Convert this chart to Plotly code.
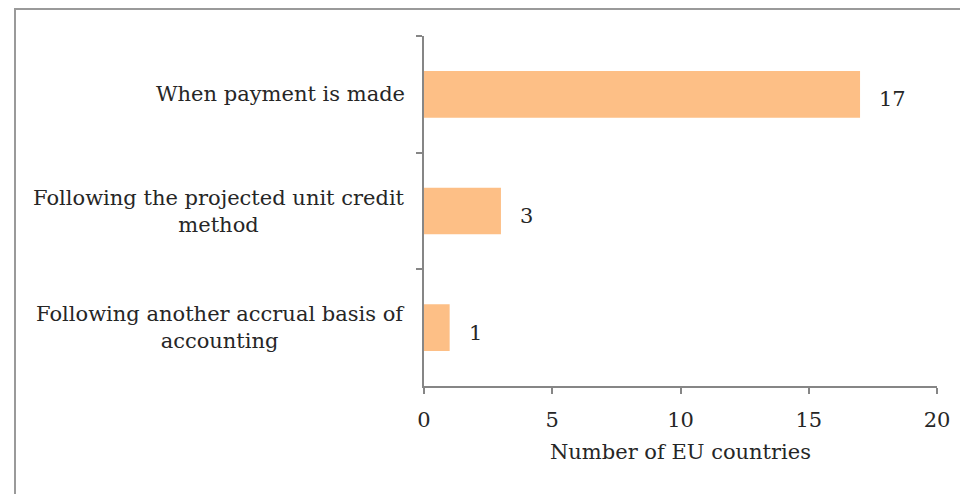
import plotly.graph_objects as go

categories = ["When payment is made",
              "Following the projected unit credit<br>method",
              "Following another accrual basis of<br>accounting"]
values = [17, 3, 1]
x_ticks = [0, 5, 10, 15, 20]

FONT = "DejaVu Serif"
TXT = "#262626"
AX = "#868686"
FS = 21

# page body has an 8px margin; the figure is sized to fit the 968x494 window
W, H = 960, 486
L, R, T, B = 416, 31, 28, 108
PW, PH = W - L - R, H - T - B

fig = go.Figure()
fig.add_trace(go.Bar(
    x=values, y=categories, orientation="h",
    marker=dict(color="#FDBF86", line=dict(width=0)),
    width=0.4, hoverinfo="skip",
))

annotations = []
for c, v in zip(categories, values):
    annotations.append(dict(x=-17 / PW, xref="paper", y=c, yref="y", text=c,
                            xanchor="right", yanchor="middle", align="center",
                            showarrow=False, font=dict(family=FONT, size=FS, color=TXT)))
    annotations.append(dict(x=v, xref="x", y=c, yref="y", text=str(v),
                            xanchor="left", yanchor="middle", xshift=17, yshift=-5,
                            showarrow=False, font=dict(family=FONT, size=FS, color=TXT)))

fig.update_layout(
    width=W, height=H,
    margin=dict(l=L, r=R, t=T, b=B),
    paper_bgcolor="white", plot_bgcolor="white",
    showlegend=False,
    annotations=annotations,
    font=dict(family=FONT, size=FS, color=TXT),
    xaxis=dict(range=[0, 20], tickvals=x_ticks, showgrid=False, zeroline=False,
               showline=True, linecolor=AX, linewidth=2,
               ticks="outside", ticklen=6, tickcolor=AX, tickwidth=1.5,
               ticklabelstandoff=8,
               tickfont=dict(family=FONT, size=FS, color=TXT),
               title=dict(text="Number of EU countries", standoff=13,
                          font=dict(family=FONT, size=FS, color=TXT))),
    yaxis=dict(autorange="reversed", showticklabels=False, showgrid=False,
               showline=True, linecolor=AX, linewidth=2,
               ticks="outside", ticklen=6, tickcolor=AX, tickwidth=1.5,
               tickson="boundaries", zeroline=False),
    shapes=[dict(type="rect", xref="paper", yref="paper",
                 x0=(7 - L) / PW, x1=1.2, y0=-0.4, y1=(T + PH - 1) / PH,
                 line=dict(color="#9A9A9A", width=2), layer="below")],
)

fig.write_html("out.html")
